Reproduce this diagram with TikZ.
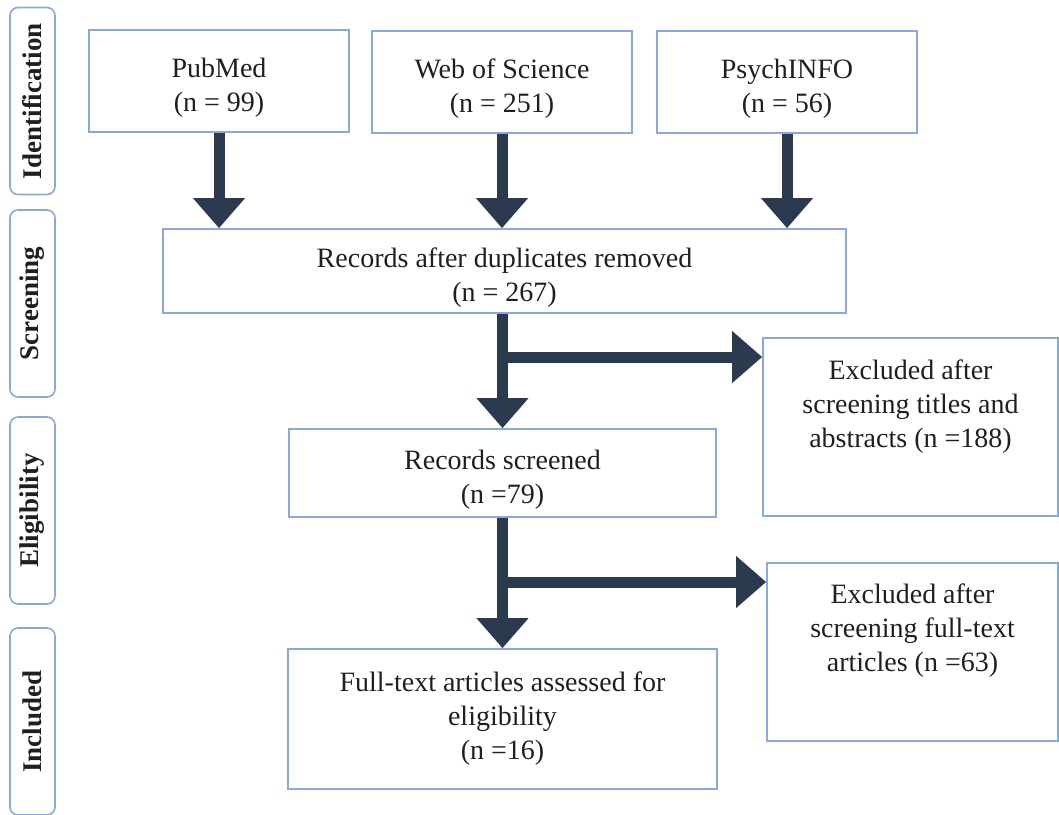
\documentclass[tikz,border=0pt]{standalone}
\usepackage{fontspec}
\setmainfont{Liberation Serif}
\usetikzlibrary{arrows.meta}

\definecolor{boxblue}{HTML}{8AA8DC}
\definecolor{arrownavy}{HTML}{2C3A4F}

%strut that pushes two-line text a little down
\newcommand{\lowtxt}{\rule{0pt}{16pt}}

\begin{document}
\begin{tikzpicture}
[x=0.5pt,y=-0.5pt,>={Triangle[width=25pt,length=15pt]},
box/.style={draw=boxblue,line width=0.8pt,inner sep=0pt,align=center,text=black!88,font=\fontsize{14}{17}\selectfont},
stage/.style={draw=boxblue,line width=0.8pt,rounded corners=4pt,inner sep=0pt,minimum width=93.5pt,minimum height=22.5pt,rotate=90,text=black!88,font=\fontsize{13.5}{15}\selectfont\bfseries},
flow/.style={->,draw=arrownavy,line width=5.5pt},]

\useasboundingbox (0,0) rectangle (1059,814);

%Box sizes
\def\sw{130pt}
\def\sh{51pt}

%Stage labels
\node (ident) at (32.5,101)[stage] {Identification};
\node (screen) at (32.5,303.5)[stage] {Screening};
\node (elig) at (32.5,510.5)[stage] {Eligibility};
\node (incl) at (32.5,721.5)[stage] {Included};

%Source databases
\node (pubmed) at (219,81)[box,minimum width=\sw,minimum height=\sh] {\lowtxt PubMed\\(n = 99)};
\node (wos) at (502,82)[box,minimum width=\sw,minimum height=\sh] {\lowtxt Web of Science\\(n = 251)};
\node (psych) at (787,82)[box,minimum width=\sw,minimum height=\sh] {\lowtxt PsychINFO\\(n = 56)};

%Main flow
\node (dup) at (504.5,271)[box,minimum width=341.5pt,minimum height=42pt] {\lowtxt Records after duplicates removed\\(n = 267)};
\node (screened) at (502.5,473)[box,minimum width=213.5pt,minimum height=44pt] {\lowtxt Records screened\\(n =79)};
\node (full) at (502.5,719)[box,minimum width=214.5pt,minimum height=70pt] {Full-text articles assessed for\\eligibility\\(n =16)};

%Excluded records
\node (excl1) at (910.5,427)[box,minimum width=147.5pt,minimum height=89pt] {};
\node (excl1txt) at (910.5,407)[box,draw=none] {Excluded after\\screening titles and\\abstracts (n =188)};
\node (excl2) at (912.5,652)[box,minimum width=145.5pt,minimum height=89pt] {};
\node (excl2txt) at (912.5,631)[box,draw=none] {Excluded after\\screening full-text\\articles (n =63)};

%Arrows into duplicates box
\draw[flow] (pubmed.south) -- (pubmed.south |- dup.north);
\draw[flow] (wos.south) -- (wos.south |- dup.north);
\draw[flow] (psych.south) -- (psych.south |- dup.north);

%Branch points
\coordinate (br1) at (502.5,357);
\coordinate (br2) at (502.5,582);

\draw[flow] (dup.south -| screened.north) -- (screened.north);
\draw[flow] (br1) -- (br1 -| excl1.west);
\draw[flow] (screened.south) -- (full.north);
\draw[flow] (br2) -- (br2 -| excl2.west);

\end{tikzpicture}
\end{document}
